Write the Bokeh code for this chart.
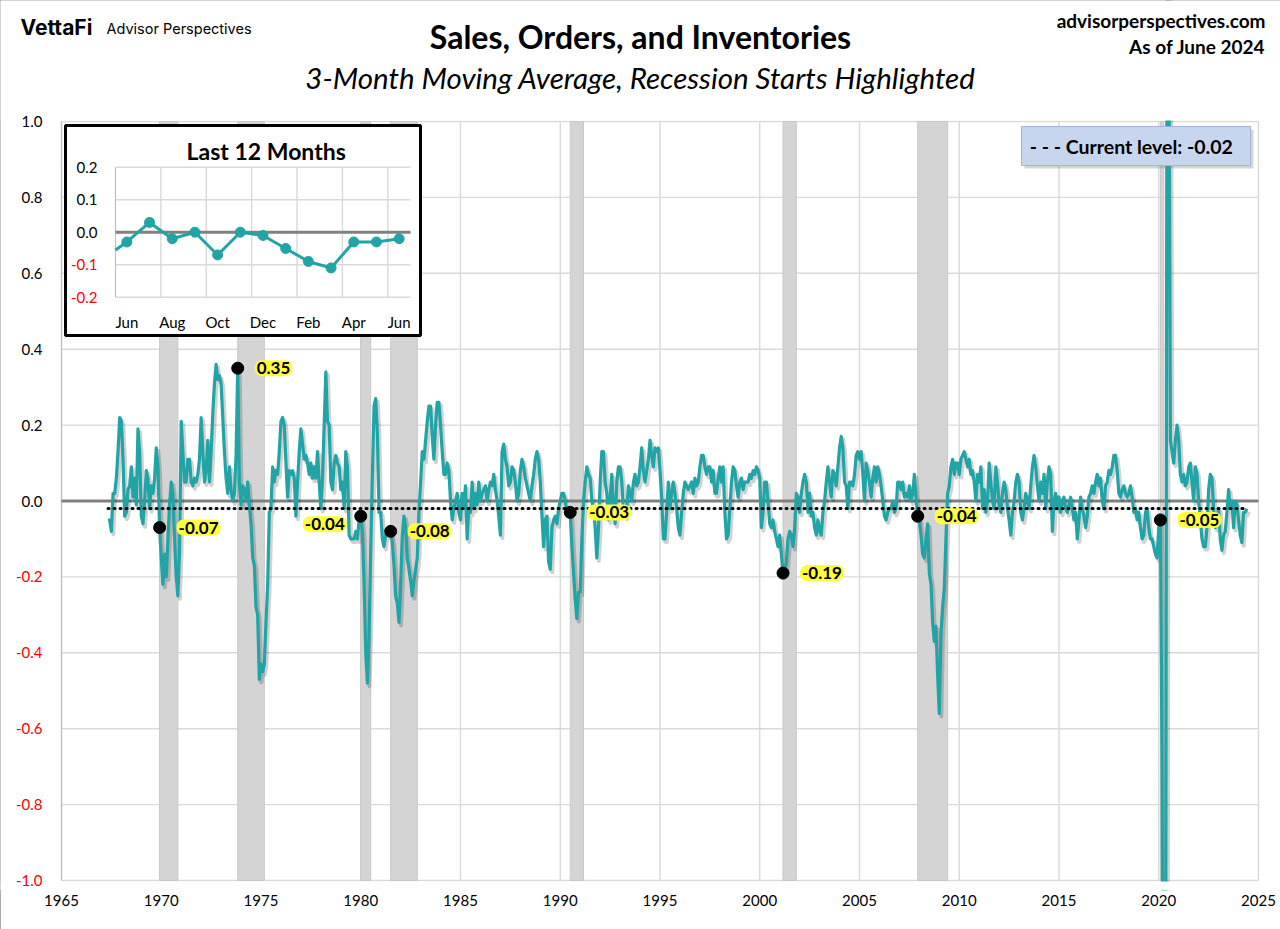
from bokeh.plotting import figure
from bokeh.models import ColumnDataSource, Range1d, FixedTicker, InlineStyleSheet
from bokeh.core.properties import value
from bokeh.embed import file_html
from bokeh.resources import INLINE

# ------------------------------------------------------------------ data
# 3-month moving average, monthly, first value = May 1967
series_start_year = 1967
series_start_month = 5

sv_1967_1969 = [-0.05, -0.05, -0.08, 0.02, 0.02, 0.06, 0.13, 0.22, 0.21, 0.11, -0.04, -0.03,
                0.03, 0.04, 0.09, 0.01, 0.06, -0.01, 0.19, 0.13, -0.04, -0.06, 0.00, 0.08,
                0.06, -0.02, 0.04, 0.02, 0.06, 0.14, 0.09, -0.07]
sv_1970s = [-0.15, -0.22, -0.14, -0.20, -0.10, -0.01, 0.05, 0.02, -0.10, -0.20, -0.25, -0.13,
            0.21, 0.13, 0.05, 0.05, 0.11, 0.11, 0.05, 0.04, 0.06, 0.05, 0.07, 0.11,
            0.22, 0.13, 0.05, 0.08, 0.16, 0.05, 0.13, 0.23, 0.31, 0.36, 0.32, 0.33,
            0.31, 0.22, 0.13, 0.06, 0.02, 0.09, 0.03, 0.00, 0.02, 0.12, 0.35, 0.05,
            -0.01, 0.04, 0.03, 0.00, 0.05, -0.01, -0.06, -0.15, -0.17, -0.28, -0.30, -0.47,
            -0.43, -0.45, -0.43, -0.32, -0.22, -0.03, -0.02, 0.09, 0.05, 0.08, 0.07, 0.13,
            0.21, 0.22, 0.20, 0.10, 0.01, 0.08, 0.07, 0.08, 0.06, -0.04, 0.05, 0.13,
            0.19, 0.15, 0.11, 0.12, 0.10, 0.07, 0.10, 0.06, 0.09, 0.06, 0.13, 0.05,
            -0.02, 0.06, 0.20, 0.34, 0.21, 0.20, 0.05, 0.03, 0.10, 0.12, 0.10, 0.09,
            0.03, 0.05, -0.02, 0.13, 0.09, -0.09, -0.10, -0.10, -0.10, -0.08, -0.10, -0.05]
sv_1980s = [-0.04, -0.08, -0.22, -0.40, -0.48, -0.35, -0.13, 0.07, 0.25, 0.27, 0.18, -0.03,
            -0.03, -0.10, -0.12, -0.09, -0.08, -0.09, -0.08, -0.11, -0.17, -0.25, -0.27, -0.32,
            -0.22, -0.09, -0.04, -0.07, -0.15, -0.18, -0.21, -0.25, -0.21, -0.18, -0.15, -0.03,
            0.05, 0.13, 0.11, 0.16, 0.21, 0.25, 0.25, 0.17, 0.11, 0.20, 0.26, 0.26,
            0.20, 0.13, 0.07, 0.07, 0.10, 0.08, 0.00, -0.05, -0.02, 0.00, 0.02, -0.03,
            -0.05, 0.02, -0.02, 0.04, -0.10, -0.02, -0.03, 0.05, -0.02, 0.02, -0.01, 0.05,
            0.00, 0.02, 0.03, 0.04, 0.00, 0.03, 0.05, 0.04, 0.07, 0.03, 0.00, -0.04,
            -0.09, 0.13, 0.15, 0.11, 0.09, 0.04, 0.05, 0.09, 0.08, 0.05, 0.00, 0.02,
            0.08, 0.11, 0.09, 0.06, 0.04, 0.02, 0.00, 0.04, 0.07, 0.11, 0.13, 0.11,
            0.05, -0.04, -0.12, -0.05, -0.04, -0.16, -0.18, -0.07, -0.05, -0.04, -0.06, -0.02]
sv_1990s = [0.00, 0.02, 0.02, 0.00, -0.03, -0.03, -0.03, -0.12, -0.19, -0.26, -0.31, -0.24,
            -0.24, -0.10, 0.00, 0.05, 0.09, 0.07, 0.06, 0.00, -0.02, -0.07, -0.15, -0.07,
            0.05, 0.13, 0.13, 0.05, 0.02, -0.05, 0.01, 0.07, -0.02, -0.06, 0.05, 0.09,
            0.09, 0.05, -0.03, -0.04, -0.02, 0.04, 0.02, 0.00, 0.05, 0.07, 0.04, 0.05,
            0.09, 0.14, 0.08, 0.05, 0.08, 0.11, 0.16, 0.12, 0.09, 0.14, 0.13, 0.14,
            0.08, 0.01, -0.10, -0.10, -0.03, 0.05, -0.02, 0.02, 0.05, 0.02, -0.02, -0.07,
            -0.09, -0.03, 0.02, 0.05, 0.04, 0.03, 0.04, 0.05, 0.02, 0.06, 0.04, 0.05,
            0.09, 0.12, 0.12, 0.09, 0.07, 0.09, 0.09, 0.05, 0.08, 0.02, 0.02, 0.06,
            0.09, 0.05, 0.09, -0.03, -0.10, -0.09, -0.02, 0.05, 0.09, 0.08, 0.04, 0.01,
            0.05, 0.06, 0.03, 0.05, 0.05, 0.05, 0.07, 0.06, 0.08, 0.07, 0.09, 0.08]
sv_2000s = [0.06, -0.07, -0.03, 0.05, 0.05, 0.00, -0.06, -0.07, -0.05, -0.08, -0.10, -0.12,
            -0.09, -0.14, -0.19, -0.19, -0.16, -0.10, -0.08, -0.09, -0.12, -0.07, 0.02, 0.01,
            -0.03, 0.02, 0.05, 0.07, 0.05, -0.03, 0.02, -0.04, -0.03, -0.07, -0.09, -0.05,
            -0.08, -0.09, -0.03, 0.00, 0.05, 0.09, 0.05, 0.01, 0.08, 0.07, 0.04, 0.09,
            0.14, 0.17, 0.14, 0.05, 0.04, -0.02, 0.05, 0.05, 0.04, 0.07, 0.12, 0.13,
            0.11, 0.13, 0.07, 0.00, 0.10, 0.08, 0.05, 0.01, 0.06, 0.09, 0.05, 0.09,
            0.07, 0.04, 0.00, -0.04, -0.05, -0.03, -0.02, -0.02, 0.00, -0.03, -0.02, 0.05,
            0.05, 0.03, 0.05, 0.01, 0.02, 0.01, 0.04, 0.00, 0.02, 0.07, 0.01, -0.04,
            -0.05, -0.09, -0.14, -0.15, -0.10, -0.06, -0.19, -0.22, -0.32, -0.37, -0.33, -0.46,
            -0.56, -0.35, -0.28, -0.23, -0.10, 0.02, 0.04, 0.09, 0.11, 0.07, 0.10, 0.10]
sv_2010s = [0.07, 0.11, 0.12, 0.13, 0.11, 0.09, 0.11, 0.07, 0.08, 0.05, 0.00, 0.07,
            0.05, 0.09, -0.02, 0.03, -0.03, 0.00, 0.10, 0.05, 0.00, -0.02, 0.09, 0.05,
            -0.01, -0.03, 0.02, 0.05, 0.03, -0.02, -0.05, -0.09, -0.03, 0.00, 0.05, 0.07,
            0.05, -0.03, -0.05, -0.02, 0.02, 0.00, -0.02, 0.04, 0.09, 0.12, 0.09, 0.04,
            0.00, 0.05, 0.02, 0.07, -0.02, 0.05, 0.09, 0.07, -0.08, 0.00, 0.02, -0.02,
            0.01, -0.03, 0.00, 0.01, -0.02, -0.03, -0.01, 0.01, -0.02, -0.05, -0.03, -0.10,
            -0.05, 0.01, -0.02, -0.04, -0.07, -0.04, 0.01, 0.02, 0.04, 0.02, 0.05, 0.07,
            0.04, 0.06, 0.00, -0.02, 0.04, 0.05, 0.08, 0.07, 0.09, 0.12, 0.12, 0.08,
            0.02, 0.01, 0.03, 0.04, 0.02, 0.01, 0.02, 0.04, 0.01, -0.03, -0.02, -0.05,
            -0.03, -0.07, -0.10, -0.09, -0.03, -0.02, -0.07, -0.10, -0.10, -0.12, -0.14, -0.15]
sv_2020s = [-0.07, -0.05, -0.70, -2.00, -1.80, 1.50, 1.40, 0.16, 0.13, 0.10, 0.16, 0.20,
            0.16, 0.07, 0.05, 0.07, 0.04, 0.05, 0.09, 0.10, 0.05, 0.00, 0.09, 0.07,
            0.00, -0.05, -0.10, -0.12, -0.12, -0.07, 0.03, 0.07, 0.06, -0.02, -0.07, -0.05,
            -0.02, -0.10, -0.13, -0.09, -0.08, -0.03, 0.03, -0.02, 0.00, -0.07, 0.00, -0.01,
            -0.05, -0.09, -0.11, -0.03, -0.03, -0.02]

recession_start = [(1969, 12), (1973, 11), (1980, 1), (1981, 7), (1990, 7), (2001, 3), (2007, 12), (2020, 2)]
recession_end = [(1970, 11), (1975, 3), (1980, 7), (1982, 11), (1991, 3), (2001, 11), (2009, 6), (2020, 4)]
label_side = ["right", "right", "left", "right", "right", "right", "right", "right"]

x_ticks = [1965, 1970, 1975, 1980, 1985, 1990, 1995, 2000, 2005, 2010, 2015, 2020, 2025]
y_ticks = [-1.0, -0.8, -0.6, -0.4, -0.2, 0.0, 0.2, 0.4, 0.6, 0.8, 1.0]
y_tick_labels = ["-1.0", "-0.8", "-0.6", "-0.4", "-0.2", "0.0", "0.2", "0.4", "0.6", "0.8", "1.0"]

inset_months = ["Jun", "Jul", "Aug", "Sep", "Oct", "Nov", "Dec", "Jan", "Feb", "Mar", "Apr", "May", "Jun"]
inset_y_ticks = [-0.2, -0.1, 0.0, 0.1, 0.2]
inset_y_labels = ["-0.2", "-0.1", "0.0", "0.1", "0.2"]

title_text = "Sales, Orders, and Inventories"
subtitle_text = "3-Month Moving Average, Recession Starts Highlighted"
site_text = "advisorperspectives.com"
asof_text = "As of June 2024"

# ------------------------------------------------------------------ derived
values = sv_1967_1969 + sv_1970s + sv_1980s + sv_1990s + sv_2000s + sv_2010s + sv_2020s
xs = [series_start_year + (series_start_month - 1 + i) / 12 for i in range(len(values))]


def month_x(ym):
    return ym[0] + (ym[1] - 1) / 12


def month_index(ym):
    return (ym[0] - series_start_year) * 12 + ym[1] - series_start_month


current = values[-1]
rec_x0 = [month_x(r) for r in recession_start]
rec_x1 = [month_x(r) for r in recession_end]
dot_y = [values[month_index(r)] for r in recession_start]
dot_text = ["%.2f" % v for v in dot_y]

inset_vals = values[-13:]
inset_prev = values[-14]

# ------------------------------------------------------------------ layout / style
FONT = "Lato"
TEAL = "#20a4a6"
GRID = "#d9d9d9"
BAND = "#d4d4d4"
YELLOW = "#ffff3c"

W, H = 1280, 929
AXIS_H = 39                      # bottom panel for x-axis labels
FW, FH = W, H - AXIS_H           # frame covers everything above the x-axis panel
PL, PR, PT, PB = 61.0, 1258.0, 121.0, 880.0   # plot area in page pixels
XMIN, XMAX, YMIN, YMAX = 1965.0, 2025.0, -1.0, 1.0
kx = (PR - PL) / (XMAX - XMIN)
ky = (PB - PT) / (YMAX - YMIN)
x_range = Range1d(XMIN - PL / kx, XMAX + (FW - PR) / kx)
y_range = Range1d(YMIN - (FH - PB) / ky, YMAX + PT / ky)

p = figure(width=W, height=H, x_range=x_range, y_range=y_range,
           output_backend="svg", toolbar_location=None, y_axis_location=None,
           min_border_left=0, min_border_right=0, min_border_top=0, min_border_bottom=AXIS_H,
           background_fill_color="white", border_fill_color="white")
p.outline_line_color = None
p.grid.visible = False
p.stylesheets = [InlineStyleSheet(css=":host { outline: 2px solid #8f8f8f; outline-offset: -2px; }")]

# pixel range of the frame (origin top-left) and inset ranges
IN_L, IN_R, IN_T, IN_B = 115.0, 410.0, 166.7, 296.7
sxu = 13.0 / (IN_R - IN_L)
ix0 = -0.5 - IN_L * sxu
syu = 0.4 / (IN_B - IN_T)
iy1 = 0.2 + IN_T * syu
p.extra_x_ranges = {"px": Range1d(0, FW), "ix": Range1d(ix0, ix0 + FW * sxu)}
p.extra_y_ranges = {"py": Range1d(FH, 0), "iy": Range1d(iy1 - FH * syu, iy1)}
PX = dict(x_range_name="px", y_range_name="py")
IX = dict(x_range_name="ix", y_range_name="iy")

# x axis (real axis)
p.xaxis.ticker = FixedTicker(ticks=x_ticks)
p.xaxis.major_tick_line_color = None
p.xaxis.minor_tick_line_color = None
p.xaxis.major_tick_out = 0
p.xaxis.axis_line_color = None
p.xaxis.major_label_text_font = FONT
p.xaxis.major_label_text_font_size = "15px"
p.xaxis.major_label_text_color = "black"
p.xaxis.major_label_standoff = 4

# grid lines
p.segment(x0=x_ticks, x1=x_ticks, y0=[YMIN] * len(x_ticks), y1=[YMAX] * len(x_ticks),
          line_color=GRID, line_width=1.4)
p.segment(x0=[XMIN] * len(y_ticks), x1=[XMAX] * len(y_ticks), y0=y_ticks, y1=y_ticks,
          line_color=GRID, line_width=1.4)

# recession bands
p.quad(left=rec_x0, right=rec_x1, bottom=YMIN, top=YMAX,
       fill_color=BAND, line_color="#c8c8c8", line_width=1)

# left axis line
p.segment(x0=[XMIN], x1=[XMIN], y0=[YMIN], y1=[YMAX], line_color="#bfbfbf", line_width=1.2)

# zero line
p.segment(x0=[XMIN], x1=[XMAX], y0=[0], y1=[0], line_color="#808080", line_width=3)

# shadow + main series
dx = 2.0 / kx
dy = 3.0 / ky
p.line([x + dx for x in xs], [v - dy for v in values], line_color="black", line_alpha=0.18,
       line_width=4, line_join="round")
p.line(xs, values, line_color=TEAL, line_width=3.2, line_join="round")

# current level dotted line
p.line([xs[0], xs[-1]], [current, current], line_color="black", line_width=3,
       line_dash="1 5", line_cap="round")

# masks: hide the series outside the plot area (top and bottom)
p.quad(left=[x_range.start], right=[x_range.end], bottom=[YMAX + 1.0 / ky], top=[y_range.end],
       fill_color="white", line_color=None)
p.quad(left=[x_range.start], right=[x_range.end], bottom=[y_range.start], top=[YMIN - 1.0 / ky],
       fill_color="white", line_color=None)

# y tick labels
ylab = ColumnDataSource(dict(x=[XMIN] * len(y_ticks), y=y_ticks, t=y_tick_labels,
                             c=["#ff0000" if t < 0 else "black" for t in y_ticks]))
p.text(x="x", y="y", text="t", source=ylab, x_offset=-19, text_align="right",
       text_baseline="middle", text_color="c", text_font=value(FONT),
       text_font_size=value("15px"))

# recession start dots + labels
p.scatter(rec_x0, dot_y, size=12, color="black")
src_r = ColumnDataSource(dict(x=[x for x, s in zip(rec_x0, label_side) if s == "right"],
                              y=[y for y, s in zip(dot_y, label_side) if s == "right"],
                              t=[t for t, s in zip(dot_text, label_side) if s == "right"]))
src_l = ColumnDataSource(dict(x=[x for x, s in zip(rec_x0, label_side) if s == "left"],
                              y=[y for y, s in zip(dot_y, label_side) if s == "left"],
                              t=[t for t, s in zip(dot_text, label_side) if s == "left"]))
common = dict(text="t", text_baseline="middle", text_font=value(FONT), text_font_style="bold",
              text_font_size=value("17px"), text_color="black",
              background_fill_color=YELLOW, padding=2, border_radius=7)
p.text(x="x", y="y", source=src_r, x_offset=17, text_align="left", **common)
p.text(x="x", y="y", source=src_l, x_offset=-14, y_offset=8, text_align="right", **common)

# ------------------------------------------------------------------ inset
p.quad(left=[65], right=[420], top=[125], bottom=[335], fill_color="white",
       line_color="black", line_width=3, **PX)
grid_y = [t for t in inset_y_ticks if t != 0]
p.segment(x0=[-0.5] * len(grid_y), x1=[12.5] * len(grid_y), y0=grid_y, y1=grid_y,
          line_color=GRID, line_width=1.4, **IX)
vx = [i + 1.5 for i in range(0, 12, 2)]
p.segment(x0=vx, x1=vx, y0=[inset_y_ticks[0]] * len(vx), y1=[inset_y_ticks[-1]] * len(vx),
          line_color=GRID, line_width=1.4, **IX)
p.segment(x0=[-0.5], x1=[-0.5], y0=[inset_y_ticks[0]], y1=[inset_y_ticks[-1]],
          line_color="#bfbfbf", line_width=1.2, **IX)
p.segment(x0=[-0.5], x1=[12.5], y0=[0], y1=[0], line_color="#808080", line_width=3, **IX)
in_x = list(range(len(inset_vals)))
p.line([-0.5] + in_x, [(inset_prev + inset_vals[0]) / 2] + inset_vals,
       line_color=TEAL, line_width=3, line_join="round", **IX)
p.scatter(in_x, inset_vals, size=10, color=TEAL, **IX)

iyl = ColumnDataSource(dict(x=[-0.5] * len(inset_y_ticks), y=inset_y_ticks, t=inset_y_labels,
                            c=["#ff0000" if t < 0 else "black" for t in inset_y_ticks]))
p.text(x="x", y="y", text="t", source=iyl, x_offset=-18, text_align="right",
       text_baseline="middle", text_color="c", text_font=value(FONT),
       text_font_size=value("15px"), **IX)
ixl = ColumnDataSource(dict(x=in_x[::2], y=[inset_y_ticks[0]] * len(in_x[::2]),
                            t=inset_months[::2]))
p.text(x="x", y="y", text="t", source=ixl, y_offset=25, text_align="center",
       text_baseline="middle", text_color="black", text_font=value(FONT),
       text_font_size=value("15px"), **IX)
p.text(x=[265.7], y=[150.5], text=["Last 12 Months"], text_align="center",
       text_baseline="middle", text_font=value(FONT), text_font_style="bold",
       text_font_size=value("23px"), text_color="black", **PX)

# current level box
p.quad(left=[1024], right=[1253], top=[129], bottom=[168], fill_color="#888888",
       fill_alpha=0.35, line_color=None, **PX)
p.quad(left=[1021], right=[1250], top=[126], bottom=[165], fill_color="#c6d6ee",
       line_color="#9fb6dc", line_width=1, **PX)
p.text(x=[1135.5], y=[146], text=["- - -  Current level:  %.2f" % current],
       text_align="center", text_baseline="middle", text_font=value(FONT),
       text_font_style="bold", text_font_size=value("19.5px"), text_color="black", **PX)


# ------------------------------------------------------------------ header texts
def header(text, X, Y, align, size, style="normal", font=FONT):
    p.text(x=[X], y=[Y], text=[text], text_align=align, text_baseline="middle",
           text_font=value(font), text_font_size=value(size), text_font_style=style,
           text_color="black", **PX)


header("VettaFi", 20, 27, "left", "21px", "bold", "Inter")
header("Advisor Perspectives", 106, 28, "left", "14.5px", "normal", "Inter")
header(title_text, 640, 36, "center", "32px", "bold")
header(subtitle_text, 640, 77, "center", "29.5px", "italic")
header(site_text, 1265, 20, "right", "19px", "bold")
header(asof_text, 1265, 46, "right", "19px", "bold")

open("out.html", "w").write(file_html(p, INLINE))
